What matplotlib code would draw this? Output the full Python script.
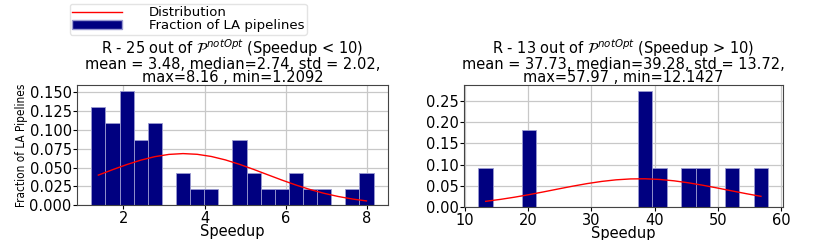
"""Speedup histograms for R pipelines (two panels)"""
import numpy as np
import matplotlib
matplotlib.use('Agg')
import matplotlib.pyplot as plt
import matplotlib.patches as mpatches
import matplotlib.lines as mlines
from matplotlib.ticker import MultipleLocator

# ─── data ──────────────────────────────
n_bins = 20
left_min, left_max = 1.2092, 8.16
left_mean, left_std = 3.48, 2.02
left_heights = [0.130, 0.109, 0.152, 0.087, 0.109, 0.0, 0.043, 0.022, 0.022, 0.0,
                0.087, 0.043, 0.022, 0.022, 0.043, 0.022, 0.022, 0.0, 0.022, 0.043]

right_min, right_max = 12.1427, 57.97
right_mean, right_std = 37.73, 13.72
right_heights = [0.0909, 0.0, 0.0, 0.1818, 0.0, 0.0, 0.0, 0.0, 0.0, 0.0,
                 0.0, 0.2727, 0.0909, 0.0, 0.0909, 0.0909, 0.0, 0.0909, 0.0, 0.0909]

left_title = ('R - 25 out of $\\mathcal{P}^{notOpt}$ (Speedup < 10)\n'
              'mean = 3.48, median=2.74, std = 2.02,\n'
              'max=8.16 , min=1.2092')
right_title = ('R - 13 out of $\\mathcal{P}^{notOpt}$ (Speedup > 10)\n'
               'mean = 37.73, median=39.28, std = 13.72,\n'
               'max=57.97 , min=12.1427')

BAR_C = '#000080'
EDGE_C = '#9a9ad0'
FS = 10.5


def _draw_panel(ax, vmin, vmax, heights, mean, std, title, ystep):
    edges = np.linspace(vmin, vmax, n_bins + 1)
    width = edges[1] - edges[0]
    centers = (edges[:-1] + edges[1:]) / 2
    ax.bar(edges[:-1], heights, width=width, align='edge',
           color=BAR_C, edgecolor=EDGE_C, linewidth=0.6, zorder=2)
    # normal curve scaled by bin width
    pdf = np.exp(-(centers - mean) ** 2 / (2 * std ** 2)) / (std * np.sqrt(2 * np.pi))
    ax.plot(centers, pdf * width, color='red', linewidth=1.0, zorder=3)
    ax.set_title(title, fontsize=FS, linespacing=0.85, pad=1)
    ax.set_xlabel('Speedup', fontsize=FS, labelpad=-1)
    ax.yaxis.set_major_locator(MultipleLocator(ystep))
    ax.grid(True, color='#c8c8c8', linewidth=0.9, zorder=0)
    ax.set_axisbelow(True)
    ax.tick_params(labelsize=FS, length=3, pad=1)
    for s in ax.spines.values():
        s.set_color('#444444')
        s.set_linewidth(0.8)


fig = plt.figure(figsize=(8.3, 2.4), dpi=100)
ax_l = fig.add_axes([0.093, 0.145, 0.374, 0.5])
ax_r = fig.add_axes([0.559, 0.137, 0.384, 0.508])

_draw_panel(ax_l, left_min, left_max, left_heights, left_mean, left_std, left_title, 0.025)
_draw_panel(ax_r, right_min, right_max, right_heights, right_mean, right_std, right_title, 0.05)

ax_l.set_ylabel('Fraction of LA Pipelines', fontsize=8.5, fontstretch='condensed', labelpad=1)

h_line = mlines.Line2D([], [], color='red', linewidth=1.0)
h_bar = mpatches.Patch(facecolor=BAR_C, edgecolor=EDGE_C)
fig.legend([h_line, h_bar], ['Distribution', 'Fraction of LA pipelines'],
           loc='upper left', bbox_to_anchor=(0.076, 1.012), fontsize=9.5,
           frameon=True, borderpad=0.2, labelspacing=0.0, handlelength=3.8,
           handletextpad=2.0, fancybox=True, edgecolor='#dddddd')

fig.savefig('out.png', dpi=100)
plt.close(fig)
